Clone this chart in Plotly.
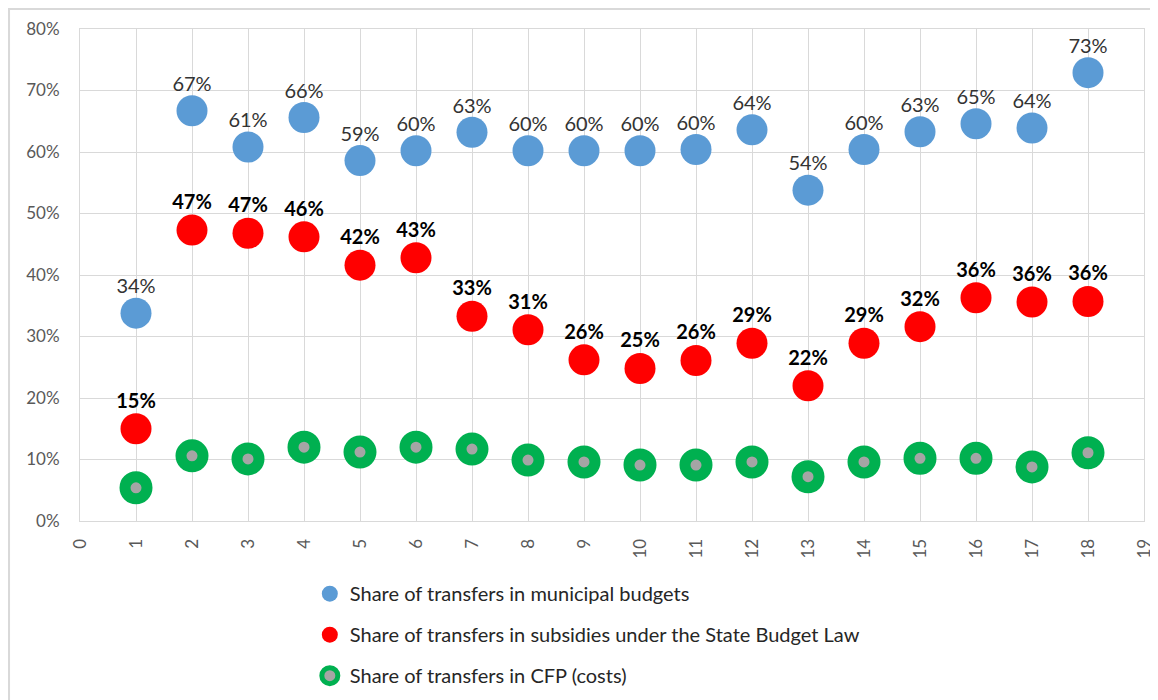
import plotly.graph_objects as go

x_vals = list(range(1, 19))

municipal = [33.8, 66.7, 60.8, 65.6, 58.6, 60.2, 63.2, 60.2, 60.2, 60.2,
             60.4, 63.6, 53.8, 60.4, 63.3, 64.6, 63.9, 72.9]
subsidies = [15.0, 47.3, 46.8, 46.2, 41.6, 42.8, 33.3, 31.1, 26.2, 24.8,
             26.1, 28.9, 22.0, 28.9, 31.6, 36.3, 35.6, 35.7]
cfp = [5.4, 10.6, 10.1, 12.0, 11.2, 12.0, 11.7, 9.9, 9.6, 9.1,
       9.1, 9.6, 7.2, 9.6, 10.2, 10.2, 8.8, 11.1]

names = [
    "Share of transfers in municipal budgets",
    "Share of transfers in subsidies under the State Budget Law",
    "Share of transfers in CFP (costs)",
]

FONT = "Lato, 'Liberation Sans', sans-serif"
GRID = "#D9D9D9"

fig = go.Figure()

fig.add_trace(go.Scatter(
    x=x_vals, y=municipal, name=names[0], legendgroup="a",
    mode="markers",
    marker=dict(size=31, color="#5B9BD5", line=dict(width=0)),
))

fig.add_trace(go.Scatter(
    x=x_vals, y=subsidies, name=names[1], legendgroup="b",
    mode="markers",
    marker=dict(size=31, color="#FF0000", line=dict(width=0)),
))

fig.add_trace(go.Scatter(
    x=x_vals, y=cfp, name=names[2], legendgroup="c",
    mode="markers",
    marker=dict(size=22, color="#A5A5A5", line=dict(width=11, color="#00B050")),
))

# data labels (invisible smaller markers to pull text closer to the points)
fig.add_trace(go.Scatter(
    x=x_vals, y=municipal, mode="markers+text", showlegend=False,
    hoverinfo="skip", marker=dict(size=22, opacity=0),
    texttemplate="%{y:.0f}%", textposition="top center",
    textfont=dict(size=20, color="#333333", family=FONT),
))
fig.add_trace(go.Scatter(
    x=x_vals, y=subsidies, mode="markers+text", showlegend=False,
    hoverinfo="skip", marker=dict(size=24, opacity=0),
    texttemplate="<b>%{y:.0f}%</b>", textposition="top center",
    textfont=dict(size=20, color="#000000", family=FONT),
))

# outer chart border (left and top visible)
fig.add_shape(type="rect", xref="paper", yref="paper",
              x0=-0.0667, x1=1.03, y0=-0.42, y1=1.0407,
              line=dict(color="#D9D9D9", width=2), layer="below")

fig.update_layout(
    width=1150, height=692,
    margin=dict(l=72, r=14, t=21, b=179, autoexpand=False),
    paper_bgcolor="white", plot_bgcolor="white",
    font=dict(family=FONT, color="#595959", size=17),
    showlegend=True,
    legend=dict(
        x=0.216, y=-0.108, xanchor="left", yanchor="top",
        orientation="v", tracegroupgap=12,
        font=dict(size=20, color="#262626", family=FONT),
        itemsizing="trace", itemwidth=30,
    ),
    xaxis=dict(
        range=[0, 19], dtick=1, tick0=0, tickangle=-90,
        showgrid=True, gridcolor=GRID, gridwidth=1,
        showline=True, linecolor=GRID, mirror=True, zeroline=False,
        ticks="", ticklabelstandoff=10, automargin=False,
        tickfont=dict(size=17, color="#595959"),
    ),
    yaxis=dict(
        range=[0, 80], dtick=10, ticksuffix="%",
        showgrid=True, gridcolor=GRID, gridwidth=1,
        showline=True, linecolor=GRID, mirror=True, zeroline=False,
        ticks="", ticklabelstandoff=16, automargin=False,
        tickfont=dict(size=17, color="#595959"),
    ),
)

fig.write_html("out.html")
